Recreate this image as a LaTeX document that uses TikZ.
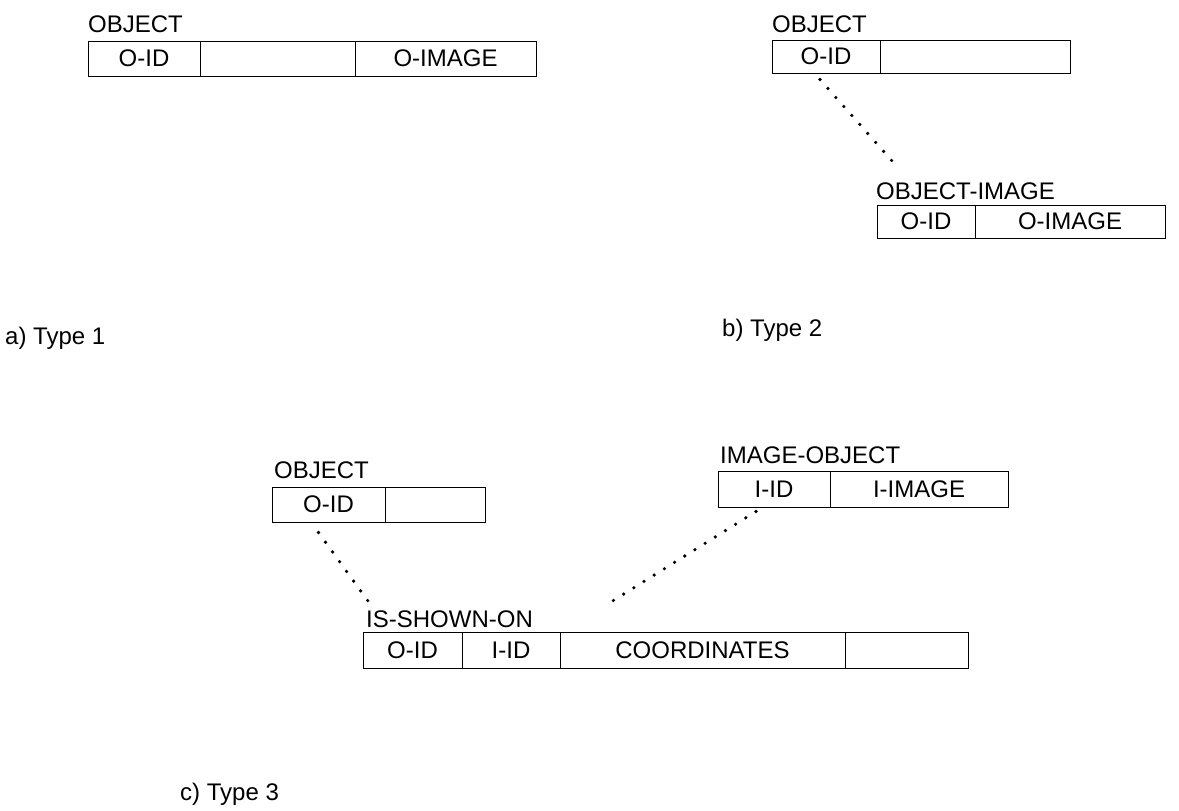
\documentclass[tikz,border=0pt]{standalone}
\usepackage{fontspec}
\setmainfont{Liberation Sans}
\begin{document}
\begin{tikzpicture}[x=1pt,y=-1pt,
  cell/.style={draw, line width=1pt, inner sep=0pt, minimum height=35pt, font=\fontsize{24}{28}\selectfont},
  lbl/.style={anchor=base west, inner sep=0pt, font=\fontsize{24}{28}\selectfont},
  dots/.style={line width=3.6pt, line cap=round, dash pattern=on 0pt off 12pt}]
\useasboundingbox (0,0) rectangle (1179,811);

% ---- Type 1
\node[lbl] (a-lbl) at (88,32) {OBJECT};
\node[cell, minimum width=112pt] (a1) at (144,58.5) {O-ID};
\node[cell, minimum width=155pt] (a2) at (277.5,58.5) {};
\node[cell, minimum width=181pt] (a3) at (445.5,58.5) {O-IMAGE};
\node[lbl] (a-cap) at (5,344) {a) Type 1};

% ---- Type 2
\node[lbl] (b-lbl) at (772,32) {OBJECT};
\node[cell, minimum width=108pt, minimum height=33pt] (b1) at (826,56.5) {O-ID};
\node[cell, minimum width=190pt, minimum height=33pt] (b2) at (975,56.5) {};
\node[lbl] (b-lbl2) at (876,199) {OBJECT-IMAGE};
\node[cell, minimum width=98pt, minimum height=33pt] (b3) at (926,221.5) {O-ID};
\node[cell, minimum width=190pt, minimum height=33pt] (b4) at (1070,221.5) {O-IMAGE};
\coordinate (b-end) at (893,162);
\draw[dots] ([xshift=-6pt,yshift=-6pt]b1.south) -- (b-end);
\node[lbl] (b-cap) at (722,336) {b) Type 2};

% ---- Type 3
\node[lbl] (c-lbl) at (274,478) {OBJECT};
\node[cell, minimum width=113pt] (c1) at (328.5,504.5) {O-ID};
\node[cell, minimum width=100pt] (c2) at (435,504.5) {};
\node[lbl] (c-lbl2) at (720,463) {IMAGE-OBJECT};
\node[cell, minimum width=112pt, minimum height=36pt] (c3) at (774,489) {I-ID};
\node[cell, minimum width=178pt, minimum height=36pt] (c4) at (919,489) {I-IMAGE};
\node[lbl] (c-lbl3) at (366,627) {IS-SHOWN-ON};
\node[cell, minimum width=99pt, minimum height=36pt] (c5) at (412.5,650) {O-ID};
\node[cell, minimum width=98pt, minimum height=36pt] (c6) at (511,650) {I-ID};
\node[cell, minimum width=285pt, minimum height=36pt] (c7) at (702.5,650) {COORDINATES};
\node[cell, minimum width=123pt, minimum height=36pt] (c8) at (906.5,650) {};
\coordinate (c-end1) at (373,608);
\coordinate (c-end2) at (611,602);
\draw[dots] ([xshift=-10pt,yshift=-10pt]c1.south) -- (c-end1);
\draw[dots] ([xshift=-18pt,yshift=-4pt]c3.south) -- (c-end2);
\node[lbl] (c-cap) at (180,800) {c) Type 3};
\end{tikzpicture}
\end{document}
